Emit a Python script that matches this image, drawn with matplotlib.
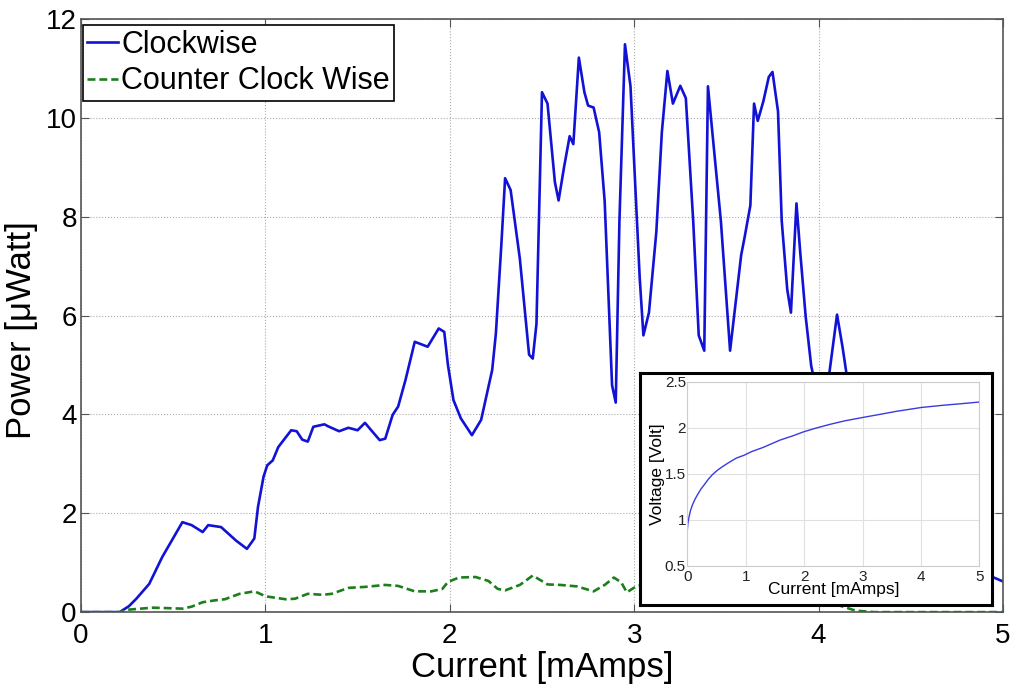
import numpy as np
import matplotlib.pyplot as plt

plt.rcParams['font.family'] = ['Liberation Sans', 'DejaVu Sans']

# -- data
cw_x = [0, 0.21, 0.26, 0.30, 0.37, 0.44, 0.55, 0.60, 0.66, 0.69, 0.76, 0.84, 0.90, 0.94,
        0.96, 0.99, 1.01, 1.04, 1.07, 1.14, 1.17, 1.20, 1.23, 1.26, 1.32, 1.34, 1.40, 1.45,
        1.50, 1.54, 1.59, 1.62, 1.65, 1.69, 1.72, 1.76, 1.81, 1.88, 1.94, 1.97, 1.99, 2.02,
        2.06, 2.12, 2.17, 2.23, 2.25, 2.28, 2.30, 2.33, 2.38, 2.43, 2.45, 2.47, 2.50, 2.53,
        2.57, 2.59, 2.62, 2.65, 2.67, 2.70, 2.73, 2.75, 2.78, 2.81, 2.84, 2.88, 2.90, 2.92,
        2.95, 2.98, 3.01, 3.03, 3.05, 3.08, 3.12, 3.15, 3.18, 3.21, 3.25, 3.28, 3.32, 3.35,
        3.38, 3.40, 3.43, 3.47, 3.52, 3.58, 3.60, 3.63, 3.65, 3.67, 3.70, 3.73, 3.75, 3.78,
        3.80, 3.83, 3.85, 3.88, 3.90, 3.93, 3.96, 4.00, 4.05, 4.10, 4.13, 4.20, 4.30, 4.40,
        4.50, 4.60, 4.70, 4.80, 4.90, 5.00]
cw_y = [0, 0, 0.12, 0.27, 0.57, 1.11, 1.82, 1.76, 1.62, 1.76, 1.72, 1.45, 1.28, 1.49,
        2.13, 2.74, 2.97, 3.07, 3.34, 3.68, 3.66, 3.49, 3.45, 3.75, 3.80, 3.76, 3.66, 3.73,
        3.68, 3.83, 3.61, 3.48, 3.51, 3.99, 4.16, 4.70, 5.47, 5.37, 5.74, 5.67, 5.00, 4.29,
        3.92, 3.58, 3.89, 4.90, 5.64, 7.46, 8.78, 8.54, 7.15, 5.21, 5.13, 5.83, 10.52, 10.29,
        8.70, 8.33, 9.01, 9.63, 9.47, 11.22, 10.52, 10.25, 10.21, 9.71, 8.31, 4.59, 4.24, 7.92,
        11.49, 10.64, 8.31, 6.76, 5.60, 6.06, 7.69, 9.71, 10.95, 10.29, 10.65, 10.40, 7.92, 5.60,
        5.29, 10.64, 9.47, 7.92, 5.29, 7.22, 7.61, 8.23, 10.29, 9.94, 10.33, 10.83, 10.93, 10.13,
        7.92, 6.53, 6.06, 8.27, 7.30, 5.98, 4.98, 4.30, 4.60, 6.02, 5.36, 3.60, 2.60, 2.00,
        1.70, 1.40, 1.20, 1.00, 0.78, 0.62]

ccw_x = [0, 0.21, 0.26, 0.39, 0.55, 0.60, 0.66, 0.73, 0.78, 0.86, 0.94, 0.96, 1.00, 1.11,
         1.16, 1.23, 1.31, 1.36, 1.45, 1.54, 1.65, 1.72, 1.81, 1.90, 1.96, 1.99, 2.05, 2.14,
         2.21, 2.26, 2.30, 2.38, 2.45, 2.53, 2.60, 2.69, 2.78, 2.84, 2.89, 2.93, 2.96, 3.01,
         3.10, 3.20, 3.30, 3.40, 3.50, 3.60, 3.70, 3.80, 3.90, 4.00, 4.10, 4.20, 4.30, 5.00]
ccw_y = [0, 0, 0.05, 0.09, 0.07, 0.11, 0.20, 0.24, 0.26, 0.37, 0.42, 0.39, 0.32, 0.26,
         0.27, 0.37, 0.35, 0.37, 0.49, 0.51, 0.55, 0.53, 0.42, 0.42, 0.47, 0.61, 0.70, 0.71,
         0.63, 0.47, 0.44, 0.55, 0.74, 0.56, 0.55, 0.52, 0.42, 0.55, 0.70, 0.60, 0.40, 0.52,
         0.60, 0.55, 0.62, 0.50, 0.58, 0.50, 0.45, 0.40, 0.35, 0.30, 0.15, 0.03, 0.0, 0.0]

iv_x = [0, 0.01, 0.029, 0.055, 0.087, 0.13, 0.173, 0.23, 0.29, 0.36, 0.43, 0.52, 0.61, 0.72,
        0.84, 0.97, 1.1, 1.3, 1.59, 1.8, 2.0, 2.2, 2.44, 2.7, 3.01, 3.3, 3.58, 4.01, 4.35,
        4.73, 5.0]
iv_y = [0.89, 0.96, 1.03, 1.10, 1.16, 1.22, 1.27, 1.33, 1.38, 1.44, 1.49, 1.54, 1.58, 1.625,
        1.67, 1.70, 1.74, 1.786, 1.866, 1.91, 1.957, 1.995, 2.036, 2.075, 2.112, 2.145,
        2.178, 2.22, 2.242, 2.263, 2.279]

# -- main plot
fig = plt.figure(figsize=(10.16, 6.94), dpi=100)
ax = fig.add_axes([0.0797, 0.118, 0.9075, 0.8545])
ax.plot(cw_x, cw_y, color='#1212d6', lw=1.9, label='Clockwise')
ax.plot(ccw_x, ccw_y, '--', color='#1c7f1c', lw=1.9, dashes=(3, 1.5), label='Counter Clock Wise')
ax.set_xlim(0, 5)
ax.set_ylim(0, 12)
ax.set_xticks(range(0, 6))
ax.set_yticks(range(0, 13, 2))
ax.grid(True, linestyle=':', color='#aaaaaa', lw=0.8)
ax.tick_params(direction='in', length=6, top=True, right=True, labelsize=20, colors='#555555',
               labelcolor='black')
ax.tick_params(axis='x', pad=8)
ax.tick_params(axis='y', pad=3)
for s in ax.spines.values():
    s.set_color('#555555')
    s.set_linewidth(1.2)
ax.set_xlabel('Current [mAmps]', fontsize=25, labelpad=1)
ax.set_ylabel('Power [μWatt]', fontsize=25)
ax.yaxis.set_label_coords(-0.047, 0.475)

leg = ax.legend(loc='upper left', bbox_to_anchor=(0.002, 0.99), borderaxespad=0,
                fontsize=22, handlelength=1.0, handletextpad=0.1, labelspacing=0.22,
                borderpad=0.15, fancybox=False, framealpha=1)
leg.get_frame().set_edgecolor('black')
leg.get_frame().set_linewidth(1.2)

# -- inset
frame = fig.add_axes([0.630, 0.1282, 0.3465, 0.3343])
frame.set_xticks([])
frame.set_yticks([])
frame.set_facecolor('white')
for s in frame.spines.values():
    s.set_linewidth(2.2)
    s.set_color('black')

ins = fig.add_axes([0.6765, 0.1849, 0.2874, 0.2651])
ins.plot(iv_x, iv_y, color='#3a3ae0', lw=1.0)
ins.set_xlim(0, 5)
ins.set_ylim(0.5, 2.5)
ins.set_xticks(range(0, 6))
ins.set_yticks([0.5, 1, 1.5, 2, 2.5])
ins.set_yticklabels(['0.5', '1', '1.5', '2', '2.5'])
ins.grid(True, color='#e0e0e0', lw=0.8)
ins.tick_params(length=0, labelsize=11, labelcolor='#222222')
ins.tick_params(axis='x', pad=3)
ins.tick_params(axis='y', pad=1)
for s in ins.spines.values():
    s.set_color('#cccccc')
    s.set_linewidth(0.8)
ins.set_xlabel('Current [mAmps]', fontsize=12.5, labelpad=-1)
ins.set_ylabel('Voltage [Volt]', fontsize=12.5, labelpad=0)

fig.savefig('out.png', dpi=100)
